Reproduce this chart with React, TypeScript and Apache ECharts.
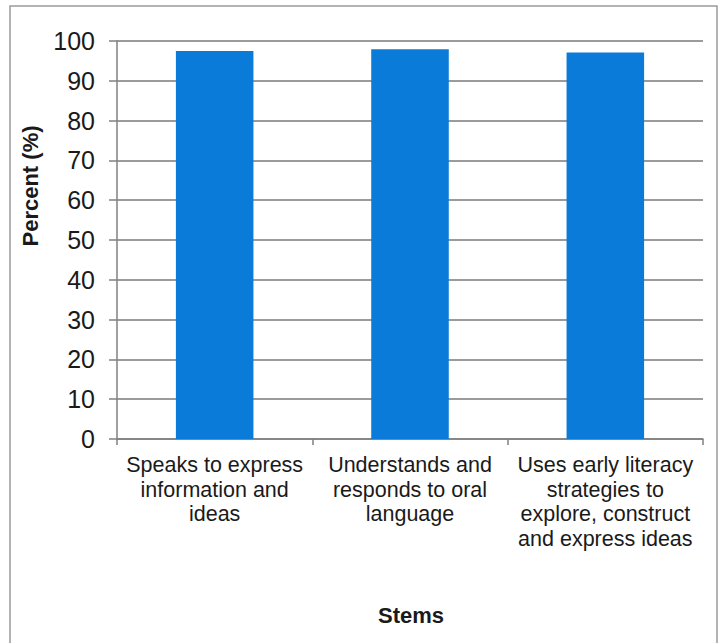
import React, { useEffect, useRef } from "react";
import * as echarts from "echarts";

const categories = [
  "Speaks to express\ninformation and\nideas",
  "Understands and\nresponds to oral\nlanguage",
  "Uses early literacy\nstrategies to\nexplore, construct\nand express ideas",
];
const values = [97.5, 97.9, 97.1];
const yTicks = { min: 0, max: 100, interval: 10 };

export default function App() {
  const ref = useRef<HTMLDivElement>(null);
  useEffect(() => {
    if (!ref.current) return;
    const chart = echarts.init(ref.current, null, { renderer: "svg" });
    const font = "Liberation Sans, Arial, sans-serif";
    chart.setOption({
      animation: false,
      backgroundColor: "#ffffff",
      grid: { left: 117, right: 21, top: 41, bottom: 204, containLabel: false },
      graphic: [
        {
          type: "rect",
          shape: { x: 10, y: 6, width: 707, height: 660 },
          style: { fill: "none", stroke: "#9a9a9a", lineWidth: 1.5 },
          silent: true,
        },
        {
          type: "text",
          x: 30,
          y: 186,
          rotation: Math.PI / 2,
          style: {
            text: "Percent (%)",
            font: `bold 22px ${font}`,
            fill: "#1a1a1a",
            align: "center",
            verticalAlign: "middle",
          },
        },
        {
          type: "text",
          x: 411,
          y: 615,
          style: {
            text: "Stems",
            font: `bold 22px ${font}`,
            fill: "#1a1a1a",
            align: "center",
            verticalAlign: "middle",
          },
        },
      ],
      xAxis: {
        type: "category",
        data: categories,
        boundaryGap: true,
        axisLine: { show: true, lineStyle: { color: "#808080", width: 1.5 } },
        axisTick: { show: true, length: 6, lineStyle: { color: "#808080", width: 1.5 } },
        axisLabel: {
          interval: 0,
          margin: 14,
          fontFamily: font,
          fontSize: 21.5,
          lineHeight: 24.5,
          color: "#1a1a1a",
        },
        splitLine: { show: false },
      },
      yAxis: {
        type: "value",
        min: yTicks.min,
        max: yTicks.max,
        interval: yTicks.interval,
        axisLine: { show: true, lineStyle: { color: "#808080", width: 1.5 } },
        axisTick: { show: true, length: 8, lineStyle: { color: "#808080", width: 1.5 } },
        axisLabel: {
          margin: 22,
          fontFamily: font,
          fontSize: 25,
          color: "#1a1a1a",
        },
        splitLine: { show: true, lineStyle: { color: "#7a7a7a", width: 1.5 } },
      },
      series: [
        {
          type: "bar",
          data: values,
          barWidth: "39.7%",
          itemStyle: { color: "#0a7bd8" },
        },
      ],
    });
    return () => chart.dispose();
  }, []);
  return <div ref={ref} style={{ width: 724, height: 643, position: "absolute", left: 0, top: 0 }} />;
}
